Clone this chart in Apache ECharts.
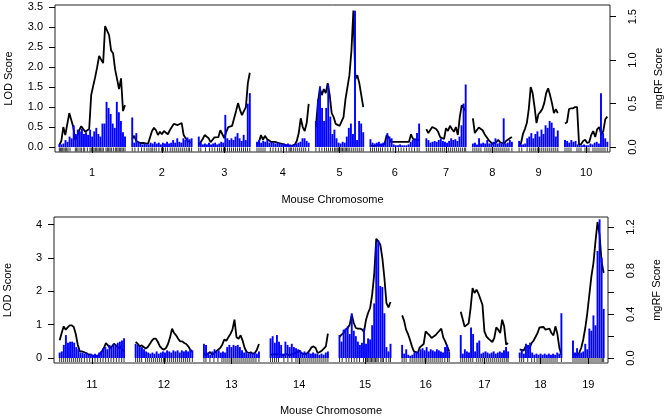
<!DOCTYPE html>
<html><head><meta charset="utf-8">
<script src="https://cdn.jsdelivr.net/npm/echarts@6/dist/echarts.min.js"></script>
<style>html,body{margin:0;padding:0;background:#fff}#c{width:668px;height:419px}</style>
</head><body><div id="c"></div>
<script>
// ---------------- DATA ----------------
const chromNames = ['1','2','3','4','5','6','7','8','9','10','11','12','13','14','15','16','17','18','19'];
// length of the genotyped span of each chromosome (cM)
const chromLengths = [98.5,89,76.5,77.5,71,73,59,58.5,58,63.5, 96.5,85,82.5,86,76.5,70.5,71,62.5,46];

// LOD scores, evenly spaced along each chromosome
const lodChr1 = [0.05,0.15,0.5,0.3,0.35,0.85,0.9,0.5,0.17,0.28,0.42,0.52,0.48,0.38,0.37,0.45,1.3,1.53,1.75,2.0,2.28,2.3,2.1,3.03,3.0,2.8,2.42,2.35,1.95,1.7,1.45,1.72,0.9,1.05];
const lodChr2 = [0.2,0.28,0.15,0.17,0.1,0.12,0.1,0.09,0.08,0.12,0.4,0.48,0.42,0.3,0.38,0.32,0.4,0.35,0.32,0.42,0.5,0.58,0.63,0.55,0.5,0.6,0.3,0.22,0.15,0.12,0.1];
const lodChr3 = [0.05,0.1,0.2,0.3,0.35,0.22,0.12,0.09,0.24,0.27,0.25,0.42,0.4,0.22,0.38,0.5,0.5,0.53,0.52,0.9,1.1,0.93,0.8,0.82,1.0,1.6,1.86];
const lodChr4 = [0.05,0.12,0.3,0.18,0.28,0.2,0.15,0.13,0.14,0.13,0.12,0.1,0.08,0.07,0.05,0.04,0.03,0.02,0.03,0.06,0.15,0.35,0.72,0.5,0.4,0.6,1.08];
const lodChr5 = [0.5,1.1,1.47,1.3,1.45,1.35,1.6,1.3,0.85,0.75,0.58,0.53,0.53,0.53,0.75,1.2,1.15,1.8,2.4,3.42,1.7,1.8,1.6,1.3,1.0];
const lodChr6 = [0.04,0.03,0.03,0.04,0.05,0.05,0.06,0.08,0.3,0.25,0.13,0.13,0.13,0.13,0.13,0.13,0.13,0.13,0.13,0.13,0.32,0.2,0.18,0.18,0.18];
const lodChr7 = [0.45,0.35,0.35,0.5,0.55,0.45,0.38,0.25,0.3,0.2,0.47,0.4,0.53,0.45,0.38,0.5,0.3,0.75,1.05,1.1,0.9];
const lodChr8 = [0.72,0.35,0.38,0.49,0.45,0.42,0.32,0.28,0.18,0.13,0.08,0.1,0.12,0.18,0.12,0.15,0.08,0.15,0.13,0.22,0.25];
const lodChr9 = [0.02,0.1,0.33,0.45,0.6,0.95,1.5,1.35,1.0,0.6,0.82,0.88,0.95,1.1,1.35,1.47,1.3,1.1,0.85,0.95,0.85];
const lodChr10 = [0.59,0.62,0.95,0.97,0.97,1.0,1.0,0.05,0.07,0.15,0.18,0.1,0.12,0.3,0.4,0.25,0.45,0.5,0.3,0.4,0.7,0.76];
const lodChr11 = [0.53,0.75,0.95,0.85,0.92,0.98,0.98,0.93,0.72,0.4,0.2,0.2,0.18,0.15,0.12,0.1,0.08,0.06,0.05,0.06,0.12,0.2,0.3,0.45,0.38,0.3,0.35,0.43,0.38,0.3,0.35,0.25,0.2];
const lodChr12 = [0.48,0.43,0.35,0.38,0.33,0.28,0.33,0.42,0.52,0.58,0.58,0.48,0.35,0.28,0.25,0.3,0.42,0.62,0.88,0.75,0.68,0.58,0.5,0.5,0.45,0.42,0.35,0.25,0.18];
const lodChr13 = [0.15,0.08,0.12,0.18,0.1,0.14,0.2,0.25,0.3,0.4,0.55,0.52,0.62,0.72,0.85,1.15,0.62,0.58,0.68,0.52,0.3,0.18,0.15,0.17,0.13,0.15,0.25,0.42];
const lodChr14 = [0.1,0.1,0.12,0.1,0.12,0.1,0.08,0.1,0.12,0.08,0.1,0.12,0.15,0.18,0.22,0.15,0.12,0.12,0.15,0.22,0.32,0.35,0.3,0.15,0.18,0.22,0.28,0.35,0.73];
const lodChr15 = [0.63,0.7,0.75,0.85,0.9,1.0,1.3,1.05,0.9,0.88,0.88,0.86,0.78,1.15,1.35,1.5,1.9,2.5,3.58,3.5,3.4,3.0,2.4,1.65,1.52,1.68];
const lodChr16 = [1.28,1.12,0.85,0.72,0.55,0.35,0.2,0.15,0.15,0.32,0.3,0.42,0.8,0.82,0.68,0.6,0.65,0.68,0.75,0.8,0.88,0.62,0.5,0.35,0.2];
const lodChr17 = [1.39,1.35,0.94,0.98,1.04,1.5,2.1,1.95,2.05,1.93,1.9,1.6,0.8,0.65,0.58,0.52,0.48,0.6,0.92,0.85,0.75,1.15,0.95,0.4,0.45];
const lodChr18 = [0.26,0.28,0.22,0.35,0.38,0.3,0.45,0.52,0.58,0.75,0.92,0.88,0.93,0.85,0.8,0.88,0.75,0.68,0.95,0.72,0.3,0.1];
const lodChr19 = [0.1,0.12,0.08,0.15,0.3,0.55,0.9,1.35,1.9,2.45,2.85,3.5,4.08,3.7,2.88,2.55];

// mgRF scores, evenly spaced along each chromosome
const mgrfChr1 = [0.03,0.03,0.04,0.08,0.06,0.12,0.1,0.25,0.15,0.2,0.18,0.21,0.15,0.17,0.14,0.2,0.12,0.18,0.22,0.15,0.12,0.27,0.27,0.52,0.45,0.38,0.27,0.22,0.52,0.4,0.3,0.17,0.12];
const mgrfChr2 = [0.34,0.05,0.16,0.06,0.04,0.03,0.04,0.03,0.03,0.05,0.04,0.06,0.04,0.05,0.03,0.05,0.04,0.06,0.04,0.05,0.08,0.05,0.1,0.06,0.05,0.1,0.08,0.11,0.09,0.1];
const mgrfChr3 = [0.12,0.05,0.03,0.04,0.03,0.05,0.03,0.04,0.05,0.03,0.04,0.06,0.05,0.37,0.1,0.08,0.1,0.08,0.12,0.16,0.1,0.07,0.14,0.08,0.5,0.62];
const mgrfChr4 = [0.06,0.08,0.05,0.07,0.06,0.08,0.05,0.06,0.05,0.04,0.05,0.04,0.03,0.04,0.03,0.04,0.03,0.02,0.03,0.04,0.05,0.06,0.1,0.1,0.07,0.05];
const mgrfChr5 = [0.3,0.55,0.7,0.45,0.3,0.45,0.72,0.35,0.15,0.2,0.1,0.05,0.04,0.06,0.05,0.12,0.22,0.27,0.15,1.57,0.08,0.3,0.27,0.17];
const mgrfChr6 = [0.09,0.05,0.04,0.05,0.06,0.04,0.05,0.06,0.16,0.12,0.1,0.03,0.02,0.02,0.03,0.02,0.02,0.02,0.03,0.06,0.08,0.1,0.16,0.27];
const mgrfChr7 = [0.1,0.08,0.05,0.06,0.07,0.06,0.08,0.1,0.07,0.06,0.05,0.07,0.1,0.08,0.09,0.07,0.12,0.25,0.5,0.72];
const mgrfChr8 = [0.04,0.05,0.03,0.1,0.04,0.05,0.04,0.08,0.04,0.04,0.06,0.1,0.04,0.05,0.04,0.33,0.04,0.05,0.08,0.06];
const mgrfChr9 = [0.07,0.03,0.03,0.04,0.1,0.12,0.16,0.1,0.15,0.18,0.12,0.2,0.15,0.25,0.22,0.3,0.28,0.22,0.12,0.19];
const mgrfChr10 = [0.08,0.07,0.05,0.08,0.06,0.07,0.03,0.02,0.02,0.03,0.02,0.02,0.04,0.03,0.05,0.06,0.04,0.62,0.16,0.1,0.06];
const mgrfChr11 = [0.05,0.06,0.12,0.21,0.14,0.15,0.15,0.14,0.1,0.08,0.05,0.05,0.04,0.05,0.03,0.04,0.03,0.04,0.03,0.05,0.06,0.09,0.1,0.08,0.12,0.1,0.13,0.11,0.14,0.15,0.16,0.18];
const mgrfChr12 = [0.13,0.12,0.1,0.1,0.08,0.06,0.05,0.04,0.05,0.04,0.06,0.04,0.05,0.06,0.05,0.07,0.06,0.05,0.07,0.06,0.07,0.05,0.07,0.06,0.07,0.06,0.08,0.07];
const mgrfChr13 = [0.13,0.12,0.05,0.03,0.06,0.08,0.06,0.07,0.05,0.06,0.05,0.1,0.12,0.1,0.12,0.11,0.12,0.1,0.07,0.05,0.06,0.04,0.05,0.04,0.05,0.04,0.06];
const mgrfChr14 = [0.18,0.2,0.14,0.21,0.15,0.12,0.04,0.15,0.12,0.1,0.13,0.1,0.09,0.08,0.07,0.05,0.06,0.04,0.05,0.04,0.05,0.04,0.04,0.03,0.04,0.03,0.05,0.06];
const mgrfChr15 = [0.21,0.15,0.26,0.27,0.29,0.22,0.41,0.25,0.2,0.15,0.12,0.14,0.27,0.13,0.18,0.17,0.3,0.5,1.05,1.08,0.66,0.65,0.41,0.1,0.06,0.13];
const mgrfChr16 = [0.12,0.04,0.08,0.03,0.02,0.03,0.05,0.06,0.05,0.08,0.09,0.07,0.1,0.06,0.08,0.07,0.06,0.08,0.07,0.06,0.05,0.1,0.12,0.06];
const mgrfChr17 = [0.21,0.04,0.08,0.06,0.05,0.28,0.22,0.06,0.14,0.16,0.04,0.05,0.06,0.05,0.04,0.05,0.06,0.04,0.05,0.06,0.05,0.07,0.1,0.06];
const mgrfChr18 = [0.05,0.08,0.04,0.13,0.12,0.14,0.05,0.03,0.04,0.03,0.04,0.03,0.04,0.03,0.04,0.03,0.04,0.03,0.05,0.04,0.41];
const mgrfChr19 = [0.16,0.05,0.09,0.04,0.05,0.06,0.13,0.08,0.27,0.25,0.39,0.3,0.98,1.27,0.92,0.45];

// marker positions (cM from first marker of each chromosome)
const mkChr1 = [0,1.5,3,5,7,9,11,13,16,24,26,28,31,33,36,38,42,46,48,50,52,54,56,58,60,62,64,66,70,72,74,76,78,81,84,86,88,90,92,94,96,98.5];
const mkChr2 = [0,4,9,14,18,22,25,28,30,33,36,40,44,47,50,53,57,60,63,66,69,72,75,78,81,84,86,89];
const mkChr3 = [0,3,10,16,20,24,28,31,34,37,40,43,46,49,52,55,58,61,64,67,70,73,76.5];
const mkChr4 = [0,3,6,9,12,20,24,28,32,36,40,44,48,50,52,55,58,61,64,67,70,73,77.5];
const mkChr5 = [0,5,9,13,16,19,22,25,28,30,32,34,36,38,40,42,44,46,48,50,53,56,59,62,65,68,71];
const mkChr6 = [0,3,6,9,12,15,18,22,26,30,34,38,42,46,50,54,58,62,66,70,73];
const mkChr7 = [0,3,6,9,12,15,18,21,24,27,30,33,36,39,42,45,48,51,54,57,59];
const mkChr8 = [0,3,6,9,12,18,21,24,27,30,33,36,39,42,45,48,51,54,58.5];
const mkChr9 = [0,4,12,16,19,22,25,28,31,34,37,40,43,46,49,52,55,58];
const mkChr10 = [0,3,6,9,18,21,24,30,33,36,42,45,48,51,54,57,60,63.5];
const mkChr11 = [0,3,6,9,12,15,18,21,24,27,30,33,37,41,45,49,53,57,61,65,69,73,77,81,85,89,93,96.5];
const mkChr12 = [0,3,6,9,15,18,21,24,27,30,33,36,39,42,45,48,51,54,57,60,63,66,69,72,75,78,81,85];
const mkChr13 = [0,3,9,15,21,27,30,33,36,39,42,45,48,51,54,57,60,63,66,69,72,75,78,82.5];
const mkChr14 = [0,3,6,9,12,20,26,32,38,41,44,47,50,53,56,59,62,65,68,71,74,77,80,83,86];
const mkChr15 = [0,4,10,14,18,22,26,30,36,40,42,44,46,48,50,52,54,56,58,62,64,66,70,74,76.5];
const mkChr16 = [0,3,6,12,15,18,21,24,27,30,33,36,39,42,45,48,51,54,57,60,64,68,70.5];
const mkChr17 = [0,3,6,9,12,15,18,24,27,30,33,36,39,42,45,48,51,54,57,60,63,66,69,71];
const mkChr18 = [0,3,6,12,18,22,26,29,32,35,38,41,44,47,50,53,56,62.5];
const mkChr19 = [0,3,6,9,12,15,18,21,24,27,30,33,36,39,42,44,46];

// axis tick values
const topLodTicks = [0,0.5,1,1.5,2,2.5,3,3.5];
const topRfTicks = [0,0.5,1,1.5];
const bottomLodTicks = [0,1,2,3,4];
const bottomRfTicks = [0,0.2,0.4,0.6,0.8,1.0,1.2];
const bottomRfLabels = [0,0.4,0.8,1.2];

// ---------------- BUILD ----------------
const lodAll = [lodChr1,lodChr2,lodChr3,lodChr4,lodChr5,lodChr6,lodChr7,lodChr8,lodChr9,lodChr10,lodChr11,lodChr12,lodChr13,lodChr14,lodChr15,lodChr16,lodChr17,lodChr18,lodChr19];
const rfAll = [mgrfChr1,mgrfChr2,mgrfChr3,mgrfChr4,mgrfChr5,mgrfChr6,mgrfChr7,mgrfChr8,mgrfChr9,mgrfChr10,mgrfChr11,mgrfChr12,mgrfChr13,mgrfChr14,mgrfChr15,mgrfChr16,mgrfChr17,mgrfChr18,mgrfChr19];
const mkAll = [mkChr1,mkChr2,mkChr3,mkChr4,mkChr5,mkChr6,mkChr7,mkChr8,mkChr9,mkChr10,mkChr11,mkChr12,mkChr13,mkChr14,mkChr15,mkChr16,mkChr17,mkChr18,mkChr19];

const FONT = 'Liberation Sans, Arial, Helvetica, sans-serif';
const panels = [
  {chroms:[0,1,2,3,4,5,6,7,8,9], grid:{left:55, top:5, width:555, height:147},
   padStart:6.5, gap:10.8, padEnd:4, lodMin:-0.1253, lodMax:3.558, rfMin:-0.0576, rfMax:1.635,
   lodTicks:topLodTicks, lodLabels:topLodTicks, lodDigits:1, rfTicks:topRfTicks, rfLabels:topRfTicks, xMargin:15, nameGap:42},
  {chroms:[10,11,12,13,14,15,16,17,18], grid:{left:54, top:217, width:554, height:146},
   padStart:8.5, gap:17.4, padEnd:6.5, lodMin:-0.150, lodMax:4.231, rfMin:-0.0458, rfMax:1.2916,
   lodTicks:bottomLodTicks, lodLabels:bottomLodTicks, lodDigits:0, rfTicks:bottomRfTicks, rfLabels:bottomRfLabels, xMargin:16, nameGap:42}
];

const grids = [], xAxes = [], yAxes = [], series = [];
const txt = {color:'#000', fontSize:11, fontFamily:FONT};

panels.forEach((p, pi) => {
  grids.push(Object.assign({show:true, borderColor:'#222', borderWidth:1, backgroundColor:'transparent',
    containLabel:false, outerBoundsMode:'none'}, p.grid));
  let pos = p.padStart;
  const starts = [], mids = [], names = [];
  p.chroms.forEach((c, k) => {
    starts.push(pos);
    mids.push(pos + chromLengths[c] / 2);
    names.push(chromNames[c]);
    pos += chromLengths[c] + (k < p.chroms.length - 1 ? p.gap : 0);
  });
  const xMax = pos + p.padEnd;
  xAxes.push({
    type:'value', gridIndex:pi, min:0, max:xMax,
    axisLine:{show:false}, splitLine:{show:false},
    axisTick:{show:true, length:6, customValues:mids, lineStyle:{color:'#000'}},
    axisLabel:{show:true, customValues:mids, margin:p.xMargin, ...txt,
      formatter:(v)=>{let b=0;for(let i=1;i<mids.length;i++){if(Math.abs(mids[i]-v)<Math.abs(mids[b]-v))b=i;}return names[b];}},
    name:'Mouse Chromosome', nameLocation:'middle', nameGap:p.nameGap, nameTextStyle:txt
  });
  const yl = yAxes.length;
  yAxes.push({
    type:'value', gridIndex:pi, position:'left', min:p.lodMin, max:p.lodMax,
    axisLine:{show:false}, splitLine:{show:false},
    axisTick:{show:true, length:6, customValues:p.lodTicks, lineStyle:{color:'#000'}},
    axisLabel:{show:true, customValues:p.lodLabels, margin:12, ...txt, formatter:(v)=>v.toFixed(p.lodDigits)},
    name:'LOD Score', nameLocation:'middle', nameRotate:90, nameGap:41, nameTextStyle:txt
  });
  const yr = yAxes.length;
  yAxes.push({
    type:'value', gridIndex:pi, position:'right', min:p.rfMin, max:p.rfMax,
    axisLine:{show:false}, splitLine:{show:false},
    axisTick:{show:true, length:6, customValues:p.rfTicks, lineStyle:{color:'#000'}},
    axisLabel:{show:true, customValues:p.rfLabels, margin:17, rotate:90, ...txt, formatter:(v)=>v.toFixed(1)},
    name:'mgRF Score', nameLocation:'middle', nameRotate:90, nameGap:43, nameTextStyle:txt
  });
  // LOD lines, one per chromosome
  p.chroms.forEach((c, k) => {
    const vals = lodAll[c], n = vals.length, L = chromLengths[c];
    series.push({
      type:'line', xAxisIndex:pi, yAxisIndex:yl, symbol:'none', silent:true,
      lineStyle:{color:'#000', width:1.8}, z:2,
      data: vals.map((v,i)=>[starts[k] + i * L / (n - 1), v])
    });
  });
  // mgRF bars and marker rug
  const bars = [], marks = [];
  p.chroms.forEach((c, k) => {
    const vals = rfAll[c], n = vals.length, L = chromLengths[c];
    vals.forEach((v,i)=>bars.push([starts[k] + i * L / (n - 1), v]));
    mkAll[c].forEach(m=>marks.push([starts[k] + m, -0.06]));
  });
  series.push({
    type:'bar', xAxisIndex:pi, yAxisIndex:yr, barWidth:1.9, silent:true, z:3,
    itemStyle:{color:'#0000ff'}, data:bars
  });
  series.push({
    type:'scatter', xAxisIndex:pi, yAxisIndex:yl, symbol:'rect', symbolSize:[1,4], silent:true, z:4,
    itemStyle:{color:'#000'}, data:marks
  });
});

const chart = echarts.init(document.getElementById('c'), null, {renderer:'canvas'});
chart.setOption({animation:false, backgroundColor:'#fff', grid:grids, xAxis:xAxes, yAxis:yAxes, series:series});
</script></body></html>
